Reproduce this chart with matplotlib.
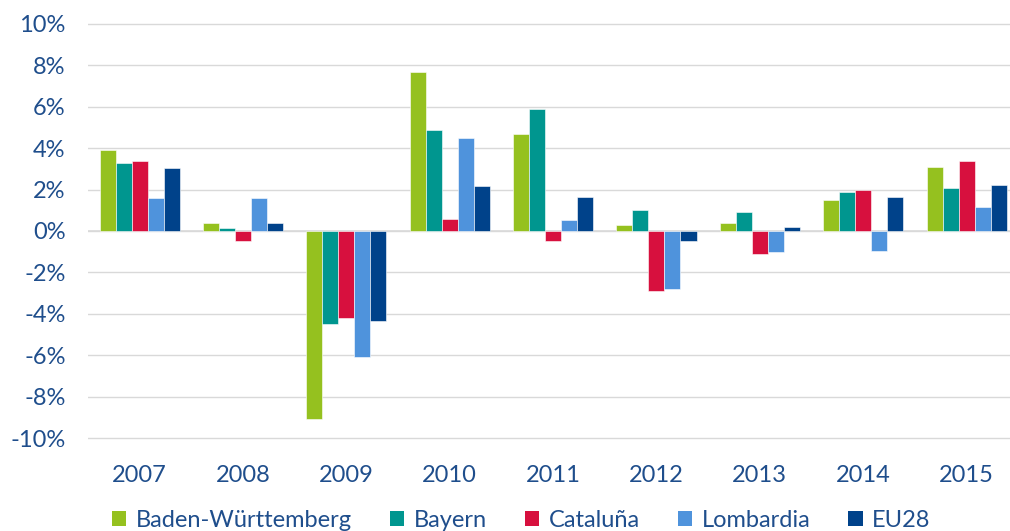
import matplotlib
matplotlib.use("Agg")
import matplotlib.pyplot as plt
import numpy as np
from matplotlib.patches import Patch

years = ["2007", "2008", "2009", "2010", "2011", "2012", "2013", "2014", "2015"]
series_names = ["Baden-Württemberg", "Bayern", "Cataluña", "Lombardia", "EU28"]
baden = [3.9, 0.4, -9.1, 7.7, 4.7, 0.3, 0.4, 1.5, 3.1]
bayern = [3.3, 0.15, -4.5, 4.9, 5.9, 1.0, 0.9, 1.9, 2.1]
cataluna = [3.4, -0.5, -4.2, 0.6, -0.5, -2.9, -1.1, 2.0, 3.4]
lombardia = [1.6, 1.6, -6.1, 4.5, 0.55, -2.8, -1.0, -0.95, 1.15]
eu28 = [3.05, 0.4, -4.35, 2.15, 1.65, -0.5, 0.2, 1.65, 2.2]
yticks = [-10, -8, -6, -4, -2, 0, 2, 4, 6, 8, 10]

colors = ["#95C11F", "#00968F", "#D7103E", "#4F93DC", "#00428A"]
text_color = "#1F4E8C"
plt.rcParams['font.family'] = ['Lato', 'DejaVu Sans']

fig = plt.figure(figsize=(10.10, 5.31), dpi=100)
ax = fig.add_axes([0.087, 0.1712, 0.913, 0.7876])

data = [baden, bayern, cataluna, lombardia, eu28]
x = np.arange(len(years))
w = 0.155
for i, (vals, c) in enumerate(zip(data, colors)):
    ax.bar(x + (i - 2) * w, vals, width=w, color=c, edgecolor="white", linewidth=0.4, zorder=3)

ax.set_ylim(-10.1, 10.1)
ax.set_xlim(-0.5, 8.42)
ax.set_yticks(yticks)
ax.set_yticklabels([f"{v}%" for v in yticks])
ax.set_xticks(x)
ax.set_xticklabels(years)
ax.grid(axis="y", color="#D9D9D9", linewidth=1.0, zorder=0)
ax.axhline(0, color="#D9D9D9", linewidth=1.2, zorder=2)
for s in ax.spines.values():
    s.set_visible(False)
ax.tick_params(axis="both", length=0, labelsize=17, labelcolor=text_color)
ax.tick_params(axis="y", pad=16)
ax.tick_params(axis="x", pad=18)

handles = [Patch(facecolor=c, edgecolor="none") for c in colors]
fig.legend(handles, series_names, loc="lower center", bbox_to_anchor=(0.516, -0.04), ncol=5,
           frameon=False, fontsize=17, labelcolor=text_color, handlelength=0.62, handleheight=0.62,
           handletextpad=0.4, columnspacing=1.6)

fig.savefig("out.png", dpi=100)
